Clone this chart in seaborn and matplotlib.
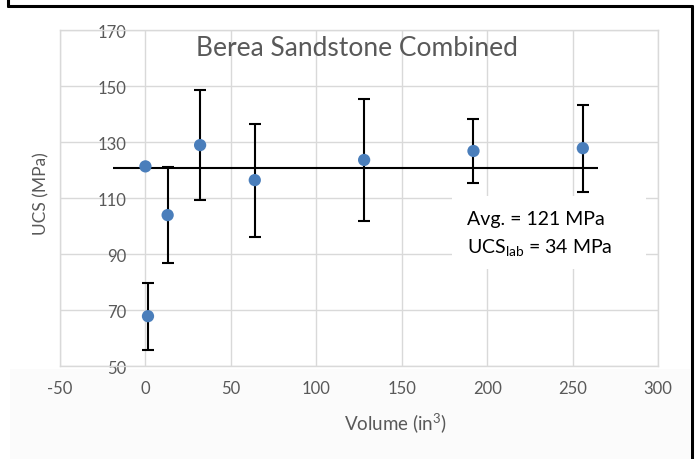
import matplotlib
matplotlib.use("Agg")
import matplotlib.pyplot as plt
import seaborn as sns
import pandas as pd
from matplotlib.lines import Line2D
from matplotlib.patches import Rectangle

# Specimen volume (in^3), mean UCS (MPa) and spread (MPa)
volume = [0, 1.5, 13, 32, 64, 128, 192, 256]
ucs = [121.4, 67.9, 104.0, 129.0, 116.5, 123.7, 126.9, 127.9]
ucs_err = [0, 12.0, 17.2, 19.6, 20.2, 21.7, 11.5, 15.6]

avg_ucs = 121
ucs_lab = 34
avg_span = [-19, 265]

x_ticks = [-50, 0, 50, 100, 150, 200, 250, 300]
y_ticks = [50, 70, 90, 110, 130, 150, 170]

df = pd.DataFrame({"volume": volume, "ucs": ucs, "err": ucs_err})

sns.set_theme(style="white")
plt.rcParams["font.family"] = ["Lato", "DejaVu Sans"]
plt.rcParams["mathtext.fontset"] = "custom"
plt.rcParams["mathtext.rm"] = "Lato"
plt.rcParams["mathtext.it"] = "Lato:italic"
plt.rcParams["axes.unicode_minus"] = False

W, H = 697, 460
fig = plt.figure(figsize=(W / 100, H / 100), dpi=100)
fig.patch.set_facecolor("white")

# faint tint below the plot area
fig.add_artist(Rectangle((10 / W, 0), 680 / W, 1 - 370 / H,
                         transform=fig.transFigure, facecolor="#fbfbfb",
                         edgecolor="none", zorder=0))

ax = fig.add_axes([60 / W, 1 - 367.3 / H, 598 / W, 336 / H])
ax.set_facecolor("white")

grid_c = "#d9d9d9"
text_c = "#595959"

ax.set_xlim(x_ticks[0], x_ticks[-1])
ax.set_ylim(y_ticks[0], y_ticks[-1])
ax.set_xticks(x_ticks)
ax.set_yticks(y_ticks)
ax.grid(True, color=grid_c, linewidth=1.0)
ax.set_axisbelow(True)
for s in ax.spines.values():
    s.set_color(grid_c)
    s.set_linewidth(1.0)

ax.tick_params(axis="x", length=0, pad=10, labelsize=12, labelcolor=text_c)
ax.tick_params(axis="y", length=0, pad=-48, labelsize=12, labelcolor=text_c)

# average line
ax.hlines(avg_ucs, avg_span[0], avg_span[1], color="black", linewidth=1.5, zorder=3)

# error bars
has_err = df[df["err"] > 0]
ax.errorbar(has_err["volume"], has_err["ucs"], yerr=has_err["err"], fmt="none",
            ecolor="black", elinewidth=1.5, capsize=4.5, capthick=1.5, zorder=4)

sns.scatterplot(data=df, x="volume", y="ucs", ax=ax, color="#4a7ebb", s=78,
                edgecolor="none", zorder=5, legend=False)

ax.set_xlabel("")
ax.set_ylabel("")

# summary box
ax.add_patch(Rectangle((0.6555, 0.29), 0.325, 0.217, transform=ax.transAxes,
                       facecolor="white", edgecolor="none", zorder=2.5))
ax.text(0.68, 0.441, f"Avg. = {avg_ucs} MPa", transform=ax.transAxes,
        fontsize=14, color="black", va="center", ha="left", zorder=6)
ax.text(0.68, 0.358, f"UCS$_{{\\mathrm{{lab}}}}$ = {ucs_lab} MPa", transform=ax.transAxes,
        fontsize=14, color="black", va="center", ha="left", zorder=6)

# titles
fig.text(357 / W, 1 - 48.5 / H, "Berea Sandstone Combined", fontsize=19,
         color=text_c, ha="center", va="center")
fig.text(395 / W, 1 - 423 / H, "Volume (in$^{3}$)", fontsize=13.5,
         color=text_c, ha="center", va="center")
fig.text(41 / W, 1 - 194 / H, "UCS (MPa)", fontsize=12.5, color=text_c,
         ha="center", va="center", rotation=90)

# outer frame
for xs, ys in [([7.5, 7.5], [0, 6.5]), ([7.5, 691.5], [6.5, 6.5]),
               ([691.5, 691.5], [6.5, 460])]:
    fig.add_artist(Line2D([x / W for x in xs], [1 - y / H for y in ys],
                          color="black", linewidth=2.2, transform=fig.transFigure))

fig.savefig("out.png", dpi=100)
